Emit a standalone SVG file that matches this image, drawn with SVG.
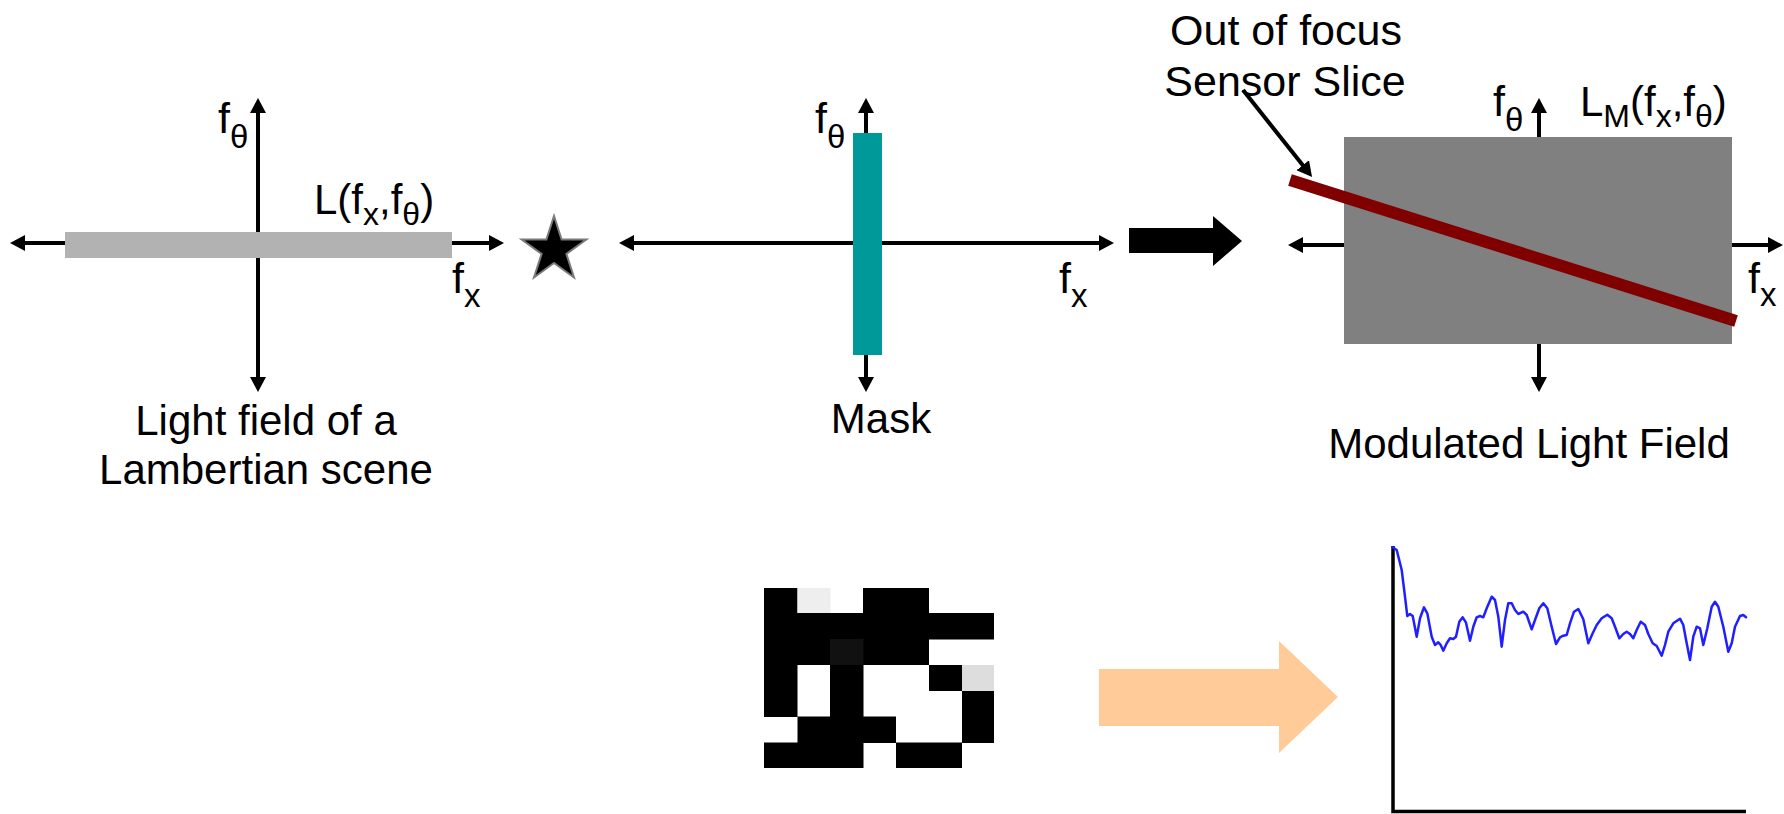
<svg xmlns="http://www.w3.org/2000/svg" width="1784" height="814" viewBox="0 0 1784 814">
<style>
text{font-family:"Liberation Sans",Arial,sans-serif;fill:#000}
.lab{font-size:43px}
.sub{font-size:33px}
.lab2{font-size:42px}
.sub2{font-size:32px}
.desc{font-size:42px;text-anchor:middle}
.note{font-size:43px;text-anchor:middle}
.axis{stroke:#000;stroke-width:4;fill:none;marker-start:url(#ah);marker-end:url(#ah)}
.ptr{stroke:#000;stroke-width:4;fill:none;marker-end:url(#ah)}
.blk{fill:#000}
</style>
<defs>
<marker id="ah" viewBox="0 0 15 16" refX="3" refY="8" markerWidth="15" markerHeight="16" markerUnits="userSpaceOnUse" orient="auto-start-reverse">
<path d="M0,0 L15,8 L0,16 z" fill="#000"/>
</marker>
</defs>
<rect width="1784" height="814" fill="#fff"/>

<g id="lambertian-lf">
<line class="axis" x1="22" y1="243" x2="492" y2="243"/>
<line class="axis" x1="258" y1="110" x2="258" y2="380"/>
<rect x="65" y="232" width="387" height="26" fill="#b2b2b2"/>
<text class="lab" x="218" y="133">f<tspan class="sub" dy="15">θ</tspan></text>
<text class="lab2" x="314" y="214">L(f<tspan class="sub2" dy="11">x</tspan><tspan dy="-11">,f</tspan><tspan class="sub2" dy="11">θ</tspan><tspan dy="-11">)</tspan></text>
<text class="lab" x="452" y="293">f<tspan class="sub" dy="14">x</tspan></text>
<text class="desc" x="266" y="435">Light field of a</text>
<text class="desc" x="266" y="484">Lambertian scene</text>
</g>

<g id="convolution-star">
<polygon points="554,216 561.6,239.5 586.3,239.5 566.4,254 574,277.5 554,263 534,277.5 541.6,254 521.7,239.5 546.4,239.5" fill="#000" stroke="#7a7a7a" stroke-width="2"/>
</g>

<g id="mask-spectrum">
<line class="axis" x1="631" y1="243" x2="1102" y2="243"/>
<line class="axis" x1="866" y1="110" x2="866" y2="380"/>
<rect x="853" y="133" width="29" height="222" fill="#009999"/>
<text class="lab" x="815" y="133">f<tspan class="sub" dy="15">θ</tspan></text>
<text class="lab" x="1059" y="293">f<tspan class="sub" dy="14">x</tspan></text>
<text class="desc" x="881" y="433">Mask</text>
</g>

<g id="modulated-lf">
<line class="axis" x1="1300" y1="245" x2="1771" y2="245"/>
<line class="axis" x1="1539" y1="110" x2="1539" y2="380"/>
<rect x="1344" y="137" width="388" height="207" fill="#808080"/>
<line x1="1290" y1="180" x2="1736" y2="321" stroke="#800000" stroke-width="12"/>
<text class="lab" x="1493" y="116">f<tspan class="sub" dy="15">θ</tspan></text>
<text class="lab2" x="1580" y="116">L<tspan class="sub2" dy="11">M</tspan><tspan dy="-11">(f</tspan><tspan class="sub2" dy="11">x</tspan><tspan dy="-11">,f</tspan><tspan class="sub2" dy="11">θ</tspan><tspan dy="-11">)</tspan></text>
<text class="lab" x="1748" y="293">f<tspan class="sub" dy="13">x</tspan></text>
<text class="desc" x="1529" y="458">Modulated Light Field</text>
<text class="note" x="1286" y="45">Out of focus</text>
<text class="note" x="1285" y="96">Sensor Slice</text>
</g>

<g id="mask-pattern">
<rect x="764" y="588" width="230" height="180" fill="#fff"/>
<rect class="blk" x="764" y="588" width="33.5" height="25.5"/>
<rect x="797.5" y="588" width="33" height="25.5" fill="#eeeeee"/>
<rect class="blk" x="863" y="588" width="66" height="25.5"/>
<rect class="blk" x="764" y="613" width="230" height="26.5"/>
<rect class="blk" x="764" y="639" width="165" height="26"/>
<rect x="830" y="639" width="33.5" height="26" fill="#111111"/>
<rect class="blk" x="764" y="665" width="33.5" height="26"/>
<rect class="blk" x="830" y="665" width="33.5" height="26"/>
<rect class="blk" x="929" y="665" width="33" height="26"/>
<rect x="962" y="665" width="32" height="26" fill="#dddddd"/>
<rect class="blk" x="764" y="691" width="33.5" height="26"/>
<rect class="blk" x="830" y="691" width="33.5" height="26"/>
<rect class="blk" x="962" y="691" width="32" height="26"/>
<rect class="blk" x="797.5" y="716.5" width="98.5" height="26.5"/>
<rect class="blk" x="962" y="716.5" width="32" height="26.5"/>
<rect class="blk" x="764" y="742.5" width="99.5" height="25.5"/>
<rect class="blk" x="896" y="742.5" width="66" height="25.5"/>
</g>

<g id="sensor-plot">
<path d="M1393,546 V811.5 H1746" fill="none" stroke="#000" stroke-width="3.5"/>
<polyline fill="none" stroke="#1f1fff" stroke-width="2.5" stroke-linejoin="round" stroke-linecap="round" points="1392.7,547.3 1396.7,550 1401.7,570 1405,596.7 1407.3,616 1410,614 1412.7,616 1416.7,636.7 1420,618.3 1424,607.3 1427.3,613.3 1431.7,636.7 1435,645 1438.3,642.3 1440.7,645 1443.3,650.7 1446.7,643.3 1450,638.3 1453.3,639 1456,636.7 1459.3,621.7 1462.7,617.3 1466,622.7 1470,640.7 1473.3,626.7 1476.7,617.3 1480,616 1483.3,617.3 1486.7,608.3 1491.7,596.7 1495,600 1498.3,616.7 1501.7,646.7 1505,620 1508.3,603.3 1511.7,603.3 1515,610 1518.3,614 1523.3,611.7 1526.7,615 1531.7,629.3 1535,620 1539.3,608.3 1543.3,603.3 1547.3,608.3 1551.7,626.7 1556,644 1560,637.3 1563.3,635.7 1566.7,635 1570,623.3 1574,611.7 1578.3,609 1583.3,619.3 1588.3,643.3 1592.7,633.3 1596.7,625 1601.7,618.3 1607.3,614.7 1611.7,618.3 1615,626.7 1619.3,638.3 1623.3,634 1626.7,631.7 1630,634 1633.3,638.3 1636.7,630 1640.7,621.7 1645,625 1648.3,634 1652.7,643.3 1656.7,646 1661.7,655.7 1665,645 1668.3,631.7 1673.3,623.3 1680,618.7 1683.3,625 1686.7,643.3 1690,660 1693.3,636.7 1696.7,626.7 1700,628.3 1703.3,645 1707.3,628.3 1711.7,606.7 1715,601.7 1718.3,606.7 1723.3,626.7 1728.3,651.7 1731.7,643.3 1735,626.7 1740,616 1743.3,615 1746,617.3"/>
</g>

<g id="connectors">
<polygon points="1129,228 1213,228 1213,216 1242,241 1213,266 1213,253 1129,253" fill="#000"/>
<polygon points="1099,669 1279,669 1279,641 1338,697 1279,753 1279,726 1099,726" fill="#ffcc99"/>
<line class="ptr" x1="1243" y1="90" x2="1304.6" y2="167.6"/>
</g>
</svg>
